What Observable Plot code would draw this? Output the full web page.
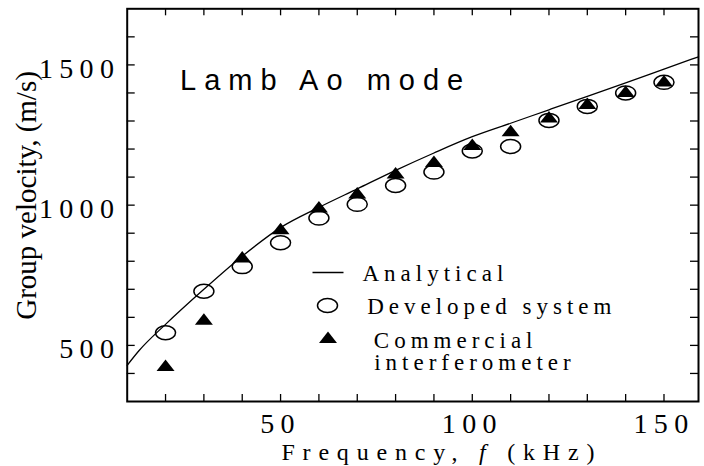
<!DOCTYPE html>
<html>
<head>
<meta charset="utf-8">
<script src="https://cdn.jsdelivr.net/npm/d3@7"></script>
<script src="https://cdn.jsdelivr.net/npm/@observablehq/plot@0.6"></script>
<style>
  html, body { margin: 0; padding: 0; background: #fff; }
  #chart svg { display: block; }
  #chart g[aria-label="x-axis tick label"],
  #chart g[aria-label="y-axis tick label"] { letter-spacing: 6.3px; }
</style>
</head>
<body>
<div id="chart"></div>
<script>
// Measured group velocity of the Lamb A0 mode (m/s) against frequency (kHz)
const frequencyKHz = [20, 30, 40, 50, 60, 70, 80, 90, 100, 110, 120, 130, 140, 150];
const developedSystem = [545, 693, 781, 866, 954, 1003, 1070, 1118, 1193, 1209, 1302, 1352, 1400, 1438];
const commercialInterferometer = [428, 593, 815, 916, 993, 1043, 1115, 1156, 1216, 1265, 1314, 1362, 1405, 1443];

// Analytical dispersion curve
const analyticalFrequency = [10, 13, 20, 30, 40, 50, 60, 70, 80, 90, 100, 110, 120, 130, 140, 150, 159];
const analyticalVelocity = [429, 480, 575, 700, 818, 920, 992, 1058, 1124, 1186, 1244, 1292, 1340, 1388, 1436, 1485, 1529];

// Axis ticks
const xLabelTicks = [50, 100, 150];
const yLabelTicks = [500, 1000, 1500];
const xMinorTicks = [20, 30, 40, 50, 60, 70, 80, 90, 100, 110, 120, 130, 140, 150];
const yMinorTicks = [400, 500, 600, 700, 800, 900, 1000, 1100, 1200, 1300, 1400, 1500, 1600];

const legendLabels = ["Analytical", "Developed system", "Commercial", "interferometer"];

const measured = frequencyKHz.map((f, i) => ({f, developed: developedSystem[i], commercial: commercialInterferometer[i]}));
const analytical = analyticalFrequency.map((f, i) => ({f, v: analyticalVelocity[i]}));

// Layout
const W = 704, H = 466;
const mL = 126.7, mR = 6, mT = 8.3, mB = 65;
const frameW = W - mL - mR, frameH = H - mT - mB;
const xTickLen = 7, yTickLen = 8;

const SERIF = "'Liberation Serif', 'Times New Roman', serif";
const SANS = "'Liberation Sans', Arial, sans-serif";

// Custom marker shapes
const ellipseSymbol = {
  draw(ctx) {
    const rx = 10, ry = 7, k = 0.5523;
    ctx.moveTo(rx, 0);
    ctx.bezierCurveTo(rx, ry * k, rx * k, ry, 0, ry);
    ctx.bezierCurveTo(-rx * k, ry, -rx, ry * k, -rx, 0);
    ctx.bezierCurveTo(-rx, -ry * k, -rx * k, -ry, 0, -ry);
    ctx.bezierCurveTo(rx * k, -ry, rx, -ry * k, rx, 0);
    ctx.closePath();
  }
};
const triangleSymbol = {
  draw(ctx) {
    ctx.moveTo(0, -6);
    ctx.lineTo(9, 5.5);
    ctx.lineTo(-9, 5.5);
    ctx.closePath();
  }
};
const dashSymbol = {
  draw(ctx) {
    ctx.moveTo(-15.5, 0);
    ctx.lineTo(15.5, 0);
  }
};

// Render hook adding letter spacing to a text mark
const spaced = (px) => (index, scales, values, dims, context, next) => {
  const g = next(index, scales, values, dims, context);
  g.setAttribute("letter-spacing", px);
  return g;
};

const legendText = (label, dx, dy) => Plot.text([label], {
  text: d => d, frameAnchor: "top-left", dx, dy,
  textAnchor: "start", lineAnchor: "bottom",
  fontFamily: SERIF, fontSize: 23, fill: "black",
  render: spaced(5)
});

const chart = Plot.plot({
  width: W, height: H,
  marginLeft: mL, marginRight: mR, marginTop: mT, marginBottom: mB,
  x: {domain: [10, 159]},
  y: {domain: [300, 1700]},
  style: {fontFamily: SERIF, color: "black", background: "white"},
  marks: [
    // inward ticks on all four sides
    Plot.tickX(xMinorTicks, {x: d => d, insetTop: frameH - xTickLen, stroke: "black", strokeWidth: 1.3}),
    Plot.tickX(xMinorTicks, {x: d => d, insetBottom: frameH - xTickLen, stroke: "black", strokeWidth: 1.3}),
    Plot.tickY(yMinorTicks, {y: d => d, insetRight: frameW - yTickLen, stroke: "black", strokeWidth: 1.3}),
    Plot.tickY(yMinorTicks, {y: d => d, insetLeft: frameW - yTickLen, stroke: "black", strokeWidth: 1.3}),
    Plot.axisX({ticks: xLabelTicks, tickSize: 0, tickPadding: 12, fontSize: 28, tickFormat: d3.format("d"), label: null}),
    Plot.axisY({ticks: yLabelTicks, tickSize: 0, tickPadding: 7, dy: 4, fontSize: 28, tickFormat: d3.format("d"), label: null}),
    Plot.frame({stroke: "black", strokeWidth: 2}),

    // analytical curve
    Plot.line(analytical, {x: "f", y: "v", stroke: "black", strokeWidth: 1.3, curve: "monotone-x"}),

    // measurements
    Plot.dot(measured, {x: "f", y: "developed", symbol: ellipseSymbol, fill: "none", stroke: "black", strokeWidth: 1.5}),
    Plot.dot(measured, {x: "f", y: "commercial", symbol: triangleSymbol, fill: "black", stroke: "none"}),

    // annotation
    Plot.text(["Lamb Ao mode"], {
      text: d => d, frameAnchor: "top-left", dx: 52.9, dy: 81, textAnchor: "start", lineAnchor: "bottom",
      fontFamily: SANS, fontSize: 29, fill: "black", render: spaced(8)
    }),

    // legend
    Plot.dot([0], {frameAnchor: "top-left", dx: 200.8, dy: 263.7, symbol: dashSymbol, fill: "none", stroke: "black", strokeWidth: 1.5}),
    Plot.dot([0], {frameAnchor: "top-left", dx: 200.3, dy: 296.7, symbol: ellipseSymbol, fill: "none", stroke: "black", strokeWidth: 1.5}),
    Plot.dot([0], {frameAnchor: "top-left", dx: 200.8, dy: 328.7, symbol: triangleSymbol, fill: "black", stroke: "none"}),
    legendText(legendLabels[0], 235.3, 271.7),
    legendText(legendLabels[1], 240, 305),
    legendText(legendLabels[2], 246.6, 339),
    legendText(legendLabels[3], 247, 360.7),

    // axis titles
    Plot.text(["Group velocity, (m/s)"], {
      text: d => d, frameAnchor: "left", dx: -91.7, dy: -9.7, rotate: -90,
      textAnchor: "middle", lineAnchor: "bottom",
      fontFamily: SERIF, fontSize: 29, fill: "black"
    }),
    Plot.text(["Frequency, f (kHz)"], {
      text: d => d, frameAnchor: "bottom", dx: 29, dy: 58, textAnchor: "middle", lineAnchor: "bottom",
      fontFamily: SERIF, fontSize: 24, fill: "black",
      render: (index, scales, values, dims, context, next) => {
        const g = next(index, scales, values, dims, context);
        g.setAttribute("letter-spacing", 7.8);
        const t = g.querySelector("text");
        if (t) {
          const ns = "http://www.w3.org/2000/svg";
          const parts = [["Frequency, ", null], ["f", "italic"], [" (kHz)", null]];
          while (t.firstChild) t.removeChild(t.firstChild);
          for (const [s, style] of parts) {
            const ts = document.createElementNS(ns, "tspan");
            ts.textContent = s;
            if (style) ts.setAttribute("font-style", style);
            t.appendChild(ts);
          }
        }
        return g;
      }
    })
  ]
});

document.getElementById("chart").appendChild(chart);
</script>
</body>
</html>
